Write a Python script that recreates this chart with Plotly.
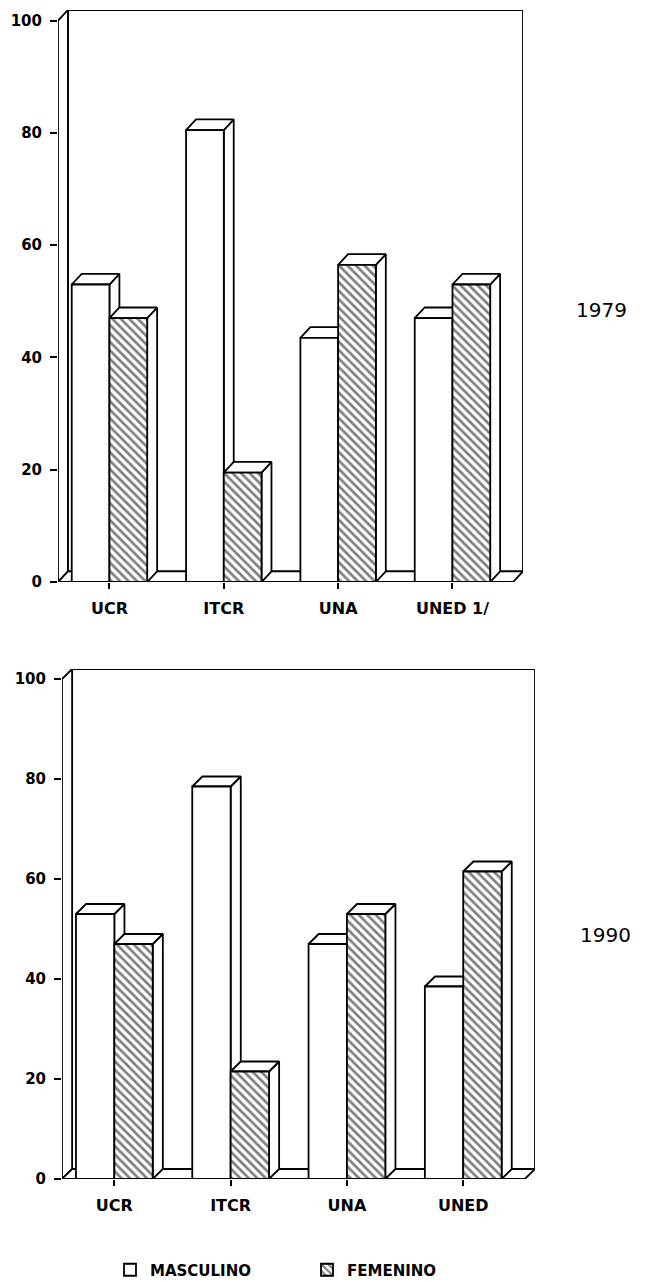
import plotly.graph_objects as go

# ---- data ----
categories_1979 = ["UCR", "ITCR", "UNA", "UNED 1/"]
categories_1990 = ["UCR", "ITCR", "UNA", "UNED"]
masculino_1979 = [53, 80.5, 43.5, 47]
femenino_1979 = [47, 19.5, 56.5, 53]
masculino_1990 = [53, 78.5, 47, 38.5]
femenino_1990 = [47, 21.5, 53, 61.5]
y_ticks = [0, 20, 40, 60, 80, 100]
panel_labels = ["1979", "1990"]
series_names = ["MASCULINO", "FEMENINO"]

# ---- geometry / style ----
W, H = 664, 1282
BAR_W = 0.33
DX = 0.087
XMIN, XFR = -0.45, 3.53
YMAX = 100
LINE = dict(color="black", width=1.8)
FONT = "DejaVu Sans"

panels = [
    dict(cats=categories_1979, m=masculino_1979, f=femenino_1979, dy=1.9,
         px=(58, 523), py=(10, 582), label=panel_labels[0], lab_xy=(601, 310),
         base=("x", "y"), over=("x3", "y3")),
    dict(cats=categories_1990, m=masculino_1990, f=femenino_1990, dy=2.0,
         px=(62, 535), py=(669, 1179), label=panel_labels[1], lab_xy=(605, 935),
         base=("x2", "y2"), over=("x4", "y4")),
]

fig = go.Figure()


def poly(xs, ys, xa, ya):
    xs = list(xs) + [xs[0]]
    ys = list(ys) + [ys[0]]
    fig.add_trace(go.Scatter(x=xs, y=ys, xaxis=xa, yaxis=ya, mode="lines", fill="toself",
                             fillcolor="white", line=LINE, showlegend=False, hoverinfo="skip"))


for pi, p in enumerate(panels):
    xa, ya = p["base"]
    DY = p["dy"]
    # walls and floor
    poly([XMIN + DX, XFR + DX, XFR + DX, XMIN + DX], [DY, DY, YMAX + DY, YMAX + DY], xa, ya)
    poly([XMIN, XMIN, XMIN + DX, XMIN + DX], [0, YMAX, YMAX + DY, DY], xa, ya)
    poly([XMIN, XFR, XFR + DX, XMIN + DX], [0, 0, DY, DY], xa, ya)
    # 3D faces of the bars
    for i in range(len(p["cats"])):
        for j, vals in enumerate([p["m"], p["f"]]):
            h = vals[i]
            xl = i - BAR_W + j * BAR_W
            xr = xl + BAR_W
            poly([xr, xr, xr + DX, xr + DX], [0, h, h + DY, DY], xa, ya)
            poly([xl, xr, xr + DX, xl + DX], [h, h, h + DY, h + DY], xa, ya)
    # front faces as bars on the overlay axes
    oxa, oya = p["over"]
    idx = list(range(len(p["cats"])))
    fig.add_trace(go.Bar(x=idx, y=p["m"], width=BAR_W, offset=-BAR_W, xaxis=oxa, yaxis=oya,
                         name=series_names[0], showlegend=(pi == 0),
                         marker=dict(color="white", line=LINE)))
    fig.add_trace(go.Bar(x=idx, y=p["f"], width=BAR_W, offset=0, xaxis=oxa, yaxis=oya,
                         name=series_names[1], showlegend=(pi == 0),
                         marker=dict(color="white", line=LINE,
                                     pattern=dict(shape="\\", fgcolor="black", bgcolor="white",
                                                  size=6, solidity=0.45))))

tickfont = dict(family=FONT, size=15, color="black", weight="bold")
xtickfont = dict(family=FONT, size=16, color="black", weight="bold")
layout = dict(
    width=W, height=H, margin=dict(l=0, r=0, t=0, b=0, autoexpand=False),
    paper_bgcolor="white", plot_bgcolor="rgba(0,0,0,0)",
    barmode="overlay", showlegend=True, hovermode=False,
    legend=dict(orientation="h", x=110 / W, xanchor="left", y=1 - 1270 / H, yanchor="middle",
                font=dict(family=FONT, size=15, color="black", weight="bold"),
                entrywidth=152, entrywidthmode="pixels", bgcolor="rgba(0,0,0,0)"),
)
for pi, p in enumerate(panels):
    xa, ya = p["base"]
    oxa, oya = p["over"]
    DY = p["dy"]
    xdom = [p["px"][0] / W, p["px"][1] / W]
    ydom = [1 - p["py"][1] / H, 1 - p["py"][0] / H]
    xk = "xaxis" if xa == "x" else "xaxis" + xa[1:]
    yk = "yaxis" if ya == "y" else "yaxis" + ya[1:]
    layout[xk] = dict(domain=xdom, range=[XMIN, XFR + DX], showgrid=False, zeroline=False,
                      showline=False, ticks="outside", ticklen=6, tickwidth=1.5, tickcolor="black",
                      tickvals=list(range(len(p["cats"]))), ticktext=p["cats"], tickfont=xtickfont,
                      ticklabelstandoff=6, anchor=ya, automargin=False)
    layout[yk] = dict(domain=ydom, range=[0, YMAX + DY], showgrid=False, zeroline=False,
                      showline=False, ticks="outside", ticklen=7, tickwidth=1.5, tickcolor="black",
                      tickvals=y_ticks, tickfont=tickfont, ticklabelstandoff=5, anchor=xa,
                      automargin=False)
    layout["xaxis" + oxa[1:]] = dict(overlaying=xa, range=[XMIN, XFR + DX], visible=False,
                                      anchor=oya, automargin=False)
    layout["yaxis" + oya[1:]] = dict(overlaying=ya, range=[0, YMAX + DY], visible=False,
                                      anchor=oxa, automargin=False)

fig.update_layout(**layout)
for p in panels:
    lx, ly = p["lab_xy"]
    fig.add_annotation(text=p["label"], xref="paper", yref="paper", x=lx / W, y=1 - ly / H,
                       xanchor="center", yanchor="middle",
                       showarrow=False, font=dict(family=FONT, size=20, color="black"))

fig.write_html("out.html", config={"displayModeBar": False},
               post_script="document.body.style.margin='0';")
